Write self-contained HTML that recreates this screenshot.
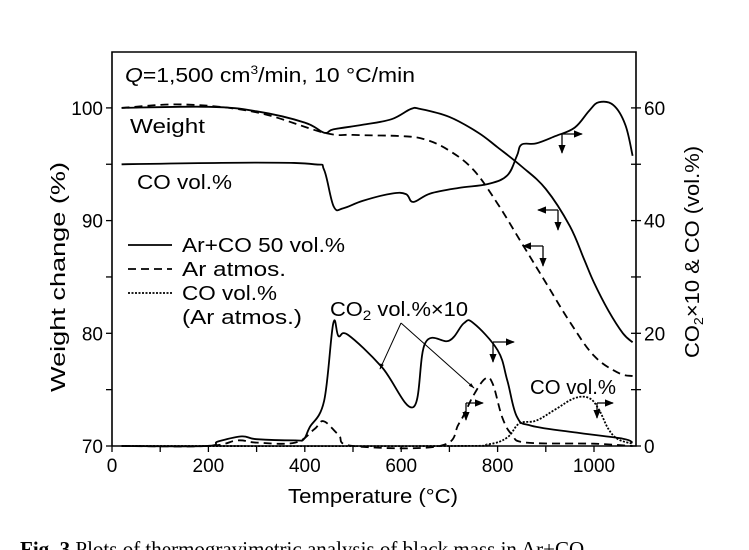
<!DOCTYPE html>
<html><head><meta charset="utf-8"><style>
body{margin:0;background:#fff;}
svg{display:block;font-family:"Liberation Sans",sans-serif;}
</style></head><body>
<svg id="chart" width="749" height="550" viewBox="0 0 749 550">
<defs>
<marker id="ah" viewBox="0 0 10 10" refX="9" refY="5" markerWidth="7" markerHeight="7" orient="auto"><path d="M0,1 L10,5 L0,9 z" fill="#000"/></marker>
<marker id="ah2" viewBox="0 0 10 10" refX="9" refY="5" markerWidth="6" markerHeight="6" orient="auto"><path d="M0,2 L10,5 L0,8 z" fill="#000"/></marker>
</defs>
<g id="axes"></g>
<g id="series"></g>
<g font-size="20" fill="#000">
<text x="125" y="82" textLength="290" lengthAdjust="spacingAndGlyphs"><tspan font-style="italic">Q</tspan>=1,500 cm<tspan dy="-8" font-size="12">3</tspan><tspan dy="8">/min, 10 °C/min</tspan></text>
<text x="130" y="133" textLength="75" lengthAdjust="spacingAndGlyphs">Weight</text>
<text x="137" y="189" textLength="95" lengthAdjust="spacingAndGlyphs">CO vol.%</text>
<line x1="128" y1="245" x2="172" y2="245" stroke="#000" stroke-width="1.8"/>
<text x="182" y="252" textLength="163" lengthAdjust="spacingAndGlyphs">Ar+CO 50 vol.%</text>
<line x1="128" y1="269" x2="172" y2="269" stroke="#000" stroke-width="1.8" stroke-dasharray="8,5"/>
<text x="182" y="276" textLength="104" lengthAdjust="spacingAndGlyphs">Ar atmos.</text>
<line x1="128" y1="293" x2="172" y2="293" stroke="#000" stroke-width="1.8" stroke-dasharray="2,1.5"/>
<text x="182" y="300" textLength="95" lengthAdjust="spacingAndGlyphs">CO vol.%</text>
<text x="182" y="324" textLength="120" lengthAdjust="spacingAndGlyphs">(Ar atmos.)</text>
<text x="330" y="316" textLength="138" lengthAdjust="spacingAndGlyphs">CO<tspan font-size="14" dy="4">2</tspan><tspan dy="-4"> vol.%×10</tspan></text>
<line x1="401" y1="323" x2="380" y2="369" stroke="#000" stroke-width="1" marker-end="url(#ah2)"/>
<line x1="401" y1="323" x2="474" y2="388" stroke="#000" stroke-width="1" marker-end="url(#ah2)"/>
<text x="530" y="394" textLength="86" lengthAdjust="spacingAndGlyphs">CO vol.%</text>
<g stroke="#000" stroke-width="1.3" fill="none">
<line x1="562" y1="134" x2="582" y2="134" marker-end="url(#ah)"/><line x1="562" y1="134" x2="562" y2="153" marker-end="url(#ah)"/>
<line x1="558" y1="210" x2="538" y2="210" marker-end="url(#ah)"/><line x1="558" y1="210" x2="558" y2="230" marker-end="url(#ah)"/>
<line x1="543" y1="246" x2="523" y2="246" marker-end="url(#ah)"/><line x1="543" y1="246" x2="543" y2="266" marker-end="url(#ah)"/>
<line x1="493" y1="342" x2="514" y2="342" marker-end="url(#ah)"/><line x1="493" y1="342" x2="493" y2="362" marker-end="url(#ah)"/>
<line x1="466" y1="403" x2="483" y2="403" marker-end="url(#ah)"/><line x1="466" y1="403" x2="466" y2="420" marker-end="url(#ah)"/>
<line x1="597" y1="403" x2="613" y2="403" marker-end="url(#ah)"/><line x1="597" y1="403" x2="597" y2="418" marker-end="url(#ah)"/>
</g>
<text x="20" y="556" font-family="Liberation Serif,serif" font-size="21"><tspan font-weight="bold">Fig. 3</tspan>  Plots of thermogravimetric analysis of black mass in Ar+CO</text>
</g>
</svg>
<script>
const tempTicks=[0,100,200,300,400,500,600,700,800,900,1000];
const tempLabels=["0","200","400","600","800","1000"];
const weightTicks=[70,75,80,85,90,95,100];
const weightLabels=["70","80","90","100"];
const volTicks=[0,10,20,30,40,50,60];
const volLabels=["0","20","40","60"];
const wSolidT=[20,200,300,400,440,460,520,580,620,640,700,760,800,850,900,950,980,1000,1030,1060,1080];
const wSolidV=[100,100.1,99.7,98.7,97.8,98.1,98.5,99.0,99.9,99.9,99.2,97.8,96.5,94.8,92.8,89.5,86.5,84.5,82,80,79.2];
const wDashT=[20,150,300,440,500,600,650,700,750,800,850,900,950,1000,1050,1080];
const wDashV=[100,100.3,99.6,97.8,97.6,97.5,97.2,96.2,94.5,91.5,88,84.5,81,78,76.5,76.2];
const coSolidT=[20,300,420,440,460,480,520,580,610,625,660,720,780,820,840,850,880,920,960,990,1010,1040,1065,1080];
const coSolidV=[50,50.3,50,49,42.5,42.2,43.5,44.8,44.7,43.3,44.8,45.8,46.5,48,51.5,53.5,53.7,55,56.5,59.5,61,60.5,57,51.5];
const co2SolidT=[20,195,220,269,300,380,398,410,440,459,470,490,560,625,650,700,730,750,800,820,840,870,970,1060,1080];
const co2SolidV=[0,0,0.8,1.7,1.2,1.0,1.2,3.3,8,21.7,19.5,19.7,14,6.9,18.3,18.7,21.8,21.8,17,11.7,5.2,3.6,2.3,1.3,0.6];
const co2DashT=[20,200,260,300,380,420,439,470,500,680,720,750,775,790,810,830,860,1000,1080];
const co2DashV=[0,0,1.0,0.6,0.6,3,4.4,2,0,0,4,9,12,11,5,2,0.6,0.4,0];
const coDotT=[20,700,780,820,845,880,920,960,990,1010,1030,1050,1080];
const coDotV=[0,0,0.3,1.5,4,4.5,6.5,8.5,8.5,6.5,3,1.2,0.4];

const NS="http://www.w3.org/2000/svg";
const X0=112,XL=636,YT=52,YB=446;
const xs=t=>X0+t*0.482;
const yw=w=>446-(w-70)*11.27;
const yv=v=>446-v*5.635;
function mk(tag,attrs,parent){const e=document.createElementNS(NS,tag);for(const k in attrs)e.setAttribute(k,attrs[k]);parent.appendChild(e);return e;}
const ax=document.getElementById('axes');
const fr=mk('path',{d:`M${X0},${YB} V${YT} H${XL} V${YB} H${X0}`,fill:'none',stroke:'#000','stroke-width':1.6},ax);


tempTicks.forEach(t=>{const l=mk('line',{x1:xs(t),x2:xs(t),y1:YB,y2:YB+6,stroke:'#000','stroke-width':1.3},ax);

});
tempLabels.forEach(s=>{const e=mk('text',{x:xs(+s),y:YB+26,'text-anchor':'middle','font-size':19},ax);e.textContent=s;

});
weightTicks.forEach(w=>{const l=mk('line',{x1:X0-6,x2:X0,y1:yw(w),y2:yw(w),stroke:'#000','stroke-width':1.3},ax);

});
weightLabels.forEach(s=>{const e=mk('text',{x:X0-9,y:yw(+s)+7,'text-anchor':'end','font-size':19},ax);e.textContent=s;

});
volTicks.forEach(v=>{const l=mk('line',{x1:XL-5,x2:XL+5,y1:yv(v),y2:yv(v),stroke:'#000','stroke-width':1.3},ax);

});
volLabels.forEach(s=>{const e=mk('text',{x:XL+8,y:yv(+s)+7,'font-size':19},ax);e.textContent=s;

});
const xt=mk('text',{x:288,y:503,'font-size':20,textLength:170,lengthAdjust:'spacingAndGlyphs'},ax);xt.textContent='Temperature (°C)';


const yt=mk('text',{x:-392,y:65,'font-size':20,transform:'rotate(-90)',textLength:230,lengthAdjust:'spacingAndGlyphs'},ax);yt.textContent='Weight change (%)';


const rt=mk('text',{x:-358,y:699,'font-size':20,transform:'rotate(-90)',textLength:212,lengthAdjust:'spacingAndGlyphs'},ax);
rt.innerHTML='CO<tspan font-size="13" dy="4">2</tspan><tspan dy="-4">×10 &amp; CO (vol.%)</tspan>';


const sg=document.getElementById('series');
function line(T,V,yf,dash,name){
const P=T.map((t,i)=>[xs(t),yf(V[i])]);
let d='M'+P[0][0].toFixed(1)+','+P[0][1].toFixed(1);
const k=0.18;
for(let i=0;i<P.length-1;i++){const p0=P[Math.max(0,i-1)],p1=P[i],p2=P[i+1],p3=P[Math.min(P.length-1,i+2)];
const c1=[p1[0]+(p2[0]-p0[0])*k,p1[1]+(p2[1]-p0[1])*k],c2=[p2[0]-(p3[0]-p1[0])*k,p2[1]-(p3[1]-p1[1])*k];
d+=` C${c1[0].toFixed(1)},${c1[1].toFixed(1)} ${c2[0].toFixed(1)},${c2[1].toFixed(1)} ${p2[0].toFixed(1)},${p2[1].toFixed(1)}`;}
const p=mk('path',{d:d,fill:'none',stroke:'#000','stroke-width':1.8,'stroke-linejoin':'round'},sg);
if(dash)p.setAttribute('stroke-dasharray',dash);

}
line(wSolidT,wSolidV,yw,null,'weight-ar-co-line');
line(wDashT,wDashV,yw,'8,5','weight-ar-line');
line(coSolidT,coSolidV,yv,null,'co-ar-co-line');
line(co2SolidT,co2SolidV,yv,null,'co2-ar-co-line');
line(co2DashT,co2DashV,yv,'8,5','co2-ar-line');
line(coDotT,coDotV,yv,'2,1.5','co-ar-line');
</script>
</body></html>
